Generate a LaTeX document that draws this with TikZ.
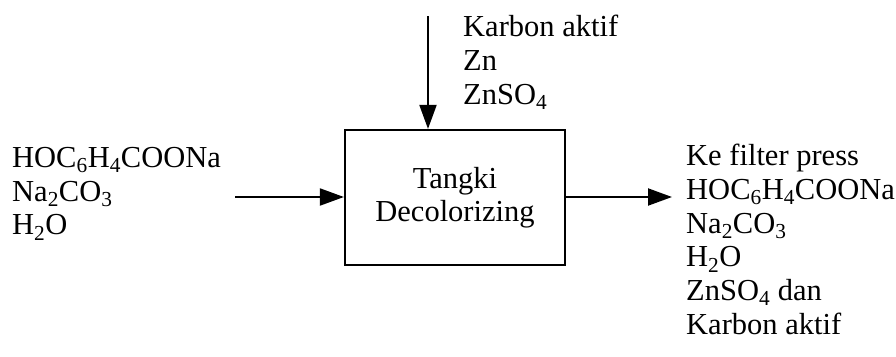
\documentclass[tikz,border=0pt]{standalone}
\usepackage{fontspec}
\setmainfont{Liberation Serif}
\usetikzlibrary{arrows.meta}
\begin{document}
\begin{tikzpicture}[x=1pt,y=-1pt,
  txt/.style={font=\fontsize{30.5}{33.7}\selectfont, inner sep=0pt, align=left, anchor=north west},
  flow/.style={line width=2pt, -{Triangle[length=24pt,width=17pt]}},
  tankbox/.style={draw, line width=2.2pt, minimum width=220pt, minimum height=135pt, align=center,
    inner sep=0pt, font=\fontsize{30.5}{33}\selectfont}]
\useasboundingbox (0,0) rectangle (896,356);
\node[tankbox] (tank) at (455,197.5) {Tangki\\Decolorizing};
\node[txt] (inA) at (12,147) {HOC\textsubscript{6}H\textsubscript{4}COONa\\Na\textsubscript{2}CO\textsubscript{3}\\H\textsubscript{2}O};
\node[txt] (inB) at (463,15) {Karbon aktif\\Zn\\ZnSO\textsubscript{4}};
\node[txt] (out) at (686,144) {Ke filter press\\HOC\textsubscript{6}H\textsubscript{4}COONa\\Na\textsubscript{2}CO\textsubscript{3}\\H\textsubscript{2}O\\ZnSO\textsubscript{4} dan\\Karbon aktif};
\coordinate (a0) at (235,197);
\coordinate (b0) at (428,16);
\coordinate (c1) at (672,197);
\draw[flow] (a0) -- (a0 -| tank.west);
\draw[flow] (b0) -- (b0 |- tank.north);
\draw[flow] (tank.east |- c1) -- (c1);
\end{tikzpicture}
\end{document}
